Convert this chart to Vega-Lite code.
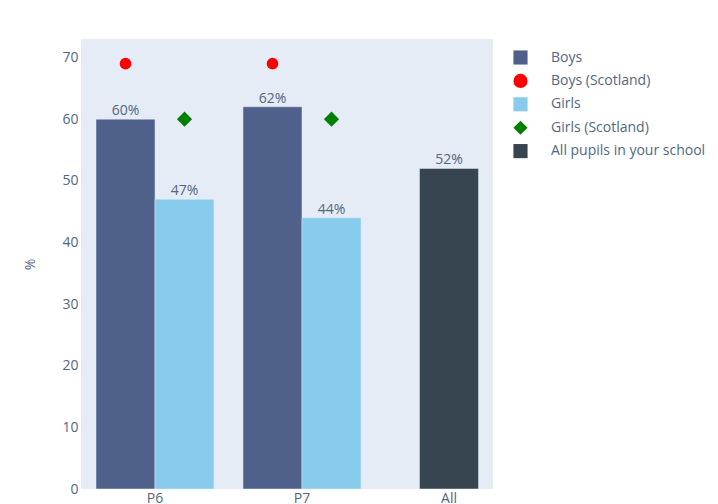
{
  "$schema": "https://vega.github.io/schema/vega-lite/v6.json",
  "width": 412,
  "height": 450,
  "autosize": "none",
  "padding": {"left": 81, "top": 39, "right": 225, "bottom": 15},
  "background": "white",
  "config": {
    "font": "Open Sans",
    "view": {"fill": "#E5ECF6", "stroke": null}
  },
  "data": {
    "values": [
      {"grade": "P6", "series": "Boys", "group": "Boys", "value": 60, "kind": "bar"},
      {"grade": "P6", "series": "Girls", "group": "Girls", "value": 47, "kind": "bar"},
      {"grade": "P7", "series": "Boys", "group": "Boys", "value": 62, "kind": "bar"},
      {"grade": "P7", "series": "Girls", "group": "Girls", "value": 44, "kind": "bar"},
      {"grade": "All", "series": "All pupils in your school", "group": "All", "value": 52, "kind": "all"},
      {"grade": "P6", "series": "Boys (Scotland)", "group": "Boys", "value": 69, "kind": "point"},
      {"grade": "P7", "series": "Boys (Scotland)", "group": "Boys", "value": 69, "kind": "point"},
      {"grade": "P6", "series": "Girls (Scotland)", "group": "Girls", "value": 60, "kind": "point"},
      {"grade": "P7", "series": "Girls (Scotland)", "group": "Girls", "value": 60, "kind": "point"}
    ]
  },
  "encoding": {
    "x": {
      "field": "grade",
      "type": "nominal",
      "sort": ["P6", "P7", "All"],
      "scale": {"domain": ["P6", "P7", "All"], "range": [15, 427], "paddingInner": 0.197, "paddingOuter": 0},
      "axis": {"title": null, "domain": false, "ticks": false, "labelAngle": 0, "labelFontSize": 14, "labelColor": "#506784", "labelPadding": 2, "labelBaseline": "top"}
    },
    "y": {
      "field": "value",
      "type": "quantitative",
      "scale": {"domain": [0, 73], "nice": false},
      "axis": {"title": "%", "grid": false, "domain": false, "ticks": false, "values": [0, 10, 20, 30, 40, 50, 60, 70], "labelFontSize": 14, "labelColor": "#506784", "labelPadding": 3, "titleFontSize": 14, "titleFontWeight": "normal", "titleColor": "#506784", "titleX": -51, "titleY": 225, "titleBaseline": "middle", "titleAngle": -90}
    },
    "color": {
      "field": "series",
      "type": "nominal",
      "scale": {
        "domain": ["Boys", "Boys (Scotland)", "Girls", "Girls (Scotland)", "All pupils in your school"],
        "range": ["#4F618A", "#FF0000", "#89CBEC", "#008000", "#36454F"]
      },
      "legend": {
        "title": null,
        "orient": "none",
        "legendX": 432,
        "legendY": 11,
        "padding": 0,
        "labelFontSize": 14,
        "labelColor": "#506784",
        "symbolSize": 200,
        "symbolStrokeWidth": 0,
        "labelOffset": 23,
        "rowPadding": 8.4,
        "labelLimit": 250
      }
    },
    "shape": {
      "field": "series",
      "type": "nominal",
      "scale": {
        "domain": ["Boys", "Boys (Scotland)", "Girls", "Girls (Scotland)", "All pupils in your school"],
        "range": ["square", "circle", "square", "diamond", "square"]
      },
      "legend": {
        "title": null,
        "orient": "none",
        "legendX": 432,
        "legendY": 11,
        "padding": 0,
        "labelFontSize": 14,
        "labelColor": "#506784",
        "symbolSize": 200,
        "symbolStrokeWidth": 0,
        "labelOffset": 23,
        "rowPadding": 8.4,
        "labelLimit": 250
      }
    }
  },
  "layer": [
    {
      "transform": [{"filter": "datum.kind === 'bar'"}],
      "mark": {"type": "bar", "stroke": "#E5ECF6", "strokeWidth": 0.5},
      "encoding": {
        "xOffset": {"field": "group", "type": "nominal", "scale": {"domain": ["Boys", "Girls"], "paddingInner": 0, "paddingOuter": 0}}
      }
    },
    {
      "transform": [{"filter": "datum.kind === 'bar'"}, {"calculate": "datum.value + '%'", "as": "label"}],
      "mark": {"type": "text", "baseline": "alphabetic", "dy": -4, "fontSize": 14, "color": "#506784"},
      "encoding": {
        "xOffset": {"field": "group", "type": "nominal", "scale": {"domain": ["Boys", "Girls"], "paddingInner": 0, "paddingOuter": 0}},
        "text": {"field": "label"},
        "color": {"value": "#506784"}
      }
    },
    {
      "transform": [{"filter": "datum.kind === 'all'"}],
      "mark": {"type": "bar", "width": {"band": 0.5}, "stroke": "#E5ECF6", "strokeWidth": 0.5}
    },
    {
      "transform": [{"filter": "datum.kind === 'all'"}, {"calculate": "datum.value + '%'", "as": "label"}],
      "mark": {"type": "text", "baseline": "alphabetic", "dy": -4, "fontSize": 14, "color": "#506784"},
      "encoding": {
        "text": {"field": "label"},
        "color": {"value": "#506784"}
      }
    },
    {
      "transform": [{"filter": "datum.kind === 'point'"}],
      "mark": {"type": "point", "filled": true, "opacity": 1, "strokeWidth": 0},
      "encoding": {
        "xOffset": {"field": "group", "type": "nominal", "scale": {"domain": ["Boys", "Girls"], "paddingInner": 0, "paddingOuter": 0}},
        "size": {
          "field": "series",
          "type": "nominal",
          "scale": {"domain": ["Boys (Scotland)", "Girls (Scotland)"], "range": [135, 230]},
          "legend": null
        }
      }
    }
  ]
}
